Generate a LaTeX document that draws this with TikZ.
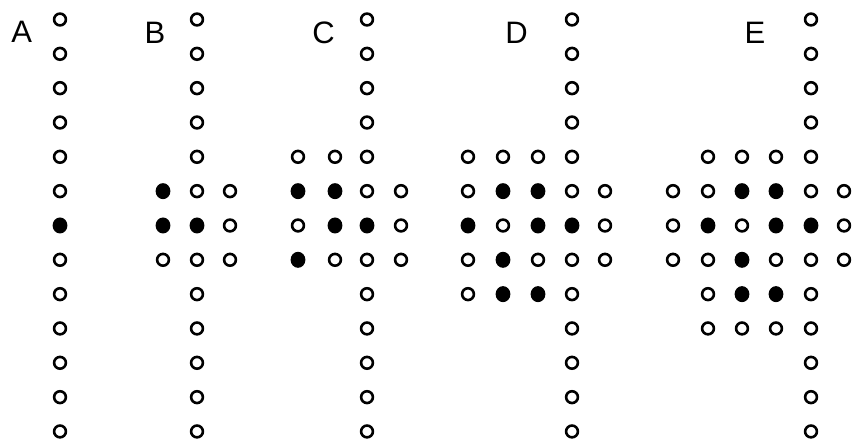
\documentclass[tikz,border=0pt]{standalone}
\usepackage{fontspec}
\setmainfont{Liberation Sans}
\usetikzlibrary{shapes.geometric}
\begin{document}
\begin{tikzpicture}[x=1pt,y=-1pt,
  oc/.style={circle,draw=black,line width=2.6pt,minimum size=11.8pt,inner sep=0pt},
  fc/.style={ellipse,fill=black,minimum width=14.8pt,minimum height=16pt,inner sep=0pt},
  lab/.style={anchor=base,inner sep=0pt,font=\fontsize{31}{31}\selectfont}]
\useasboundingbox (0,0) rectangle (852,443);
% labels
\node[lab] (labA) at (21.7,43) {A};
\node[lab] (labB) at (155,43.5) {B};
\node[lab] (labC) at (323.5,43.5) {C};
\node[lab] (labD) at (516.5,43.5) {D};
\node[lab] (labE) at (755,43.5) {E};
% Panel A
\foreach \r in {0,1,2,3,4,5,7,8,9,10,11,12}
  \node[oc] (A60-\r) at (60,{19.5+34.33*\r}) {};
\node[fc] (A60-6) at (60,{19.5+34.33*6}) {};
% Panel B
\foreach \x/\r in {197/0,197/1,197/2,197/3,197/4,197/5,197/7,197/8,197/9,197/10,197/11,197/12,
    163/7,230/5,230/6,230/7}
  \node[oc] (B\x-\r) at (\x,{19.5+34.33*\r}) {};
\foreach \x/\r in {163/5,163/6,197/6}
  \node[fc] (B\x-\r) at (\x,{19.5+34.33*\r}) {};
% Panel C
\foreach \x/\r in {367/0,367/1,367/2,367/3,367/4,367/5,367/7,367/8,367/9,367/10,367/11,367/12,
    298/4,335/4,401/5,401/6,401/7,298/6,335/7}
  \node[oc] (C\x-\r) at (\x,{19.5+34.33*\r}) {};
\foreach \x/\r in {298/5,335/5,335/6,367/6,298/7}
  \node[fc] (C\x-\r) at (\x,{19.5+34.33*\r}) {};
% Panel D
\foreach \x/\r in {572/0,572/1,572/2,572/3,572/4,572/5,572/7,572/8,572/9,572/10,572/11,572/12,
    468/4,503/4,538/4,468/5,605/5,503/6,605/6,468/7,538/7,605/7,468/8}
  \node[oc] (D\x-\r) at (\x,{19.5+34.33*\r}) {};
\foreach \x/\r in {503/5,538/5,468/6,538/6,572/6,503/7,503/8,538/8}
  \node[fc] (D\x-\r) at (\x,{19.5+34.33*\r}) {};
% Panel E
\foreach \x/\r in {811/0,811/1,811/2,811/3,811/4,811/5,811/7,811/8,811/9,811/10,811/11,811/12,
    708/4,742/4,776/4,673/5,708/5,844/5,673/6,742/6,844/6,673/7,708/7,776/7,844/7,
    708/8,708/9,742/9,776/9}
  \node[oc] (E\x-\r) at (\x,{19.5+34.33*\r}) {};
\foreach \x/\r in {742/5,776/5,708/6,776/6,811/6,742/7,742/8,776/8}
  \node[fc] (E\x-\r) at (\x,{19.5+34.33*\r}) {};
\end{tikzpicture}
\end{document}
